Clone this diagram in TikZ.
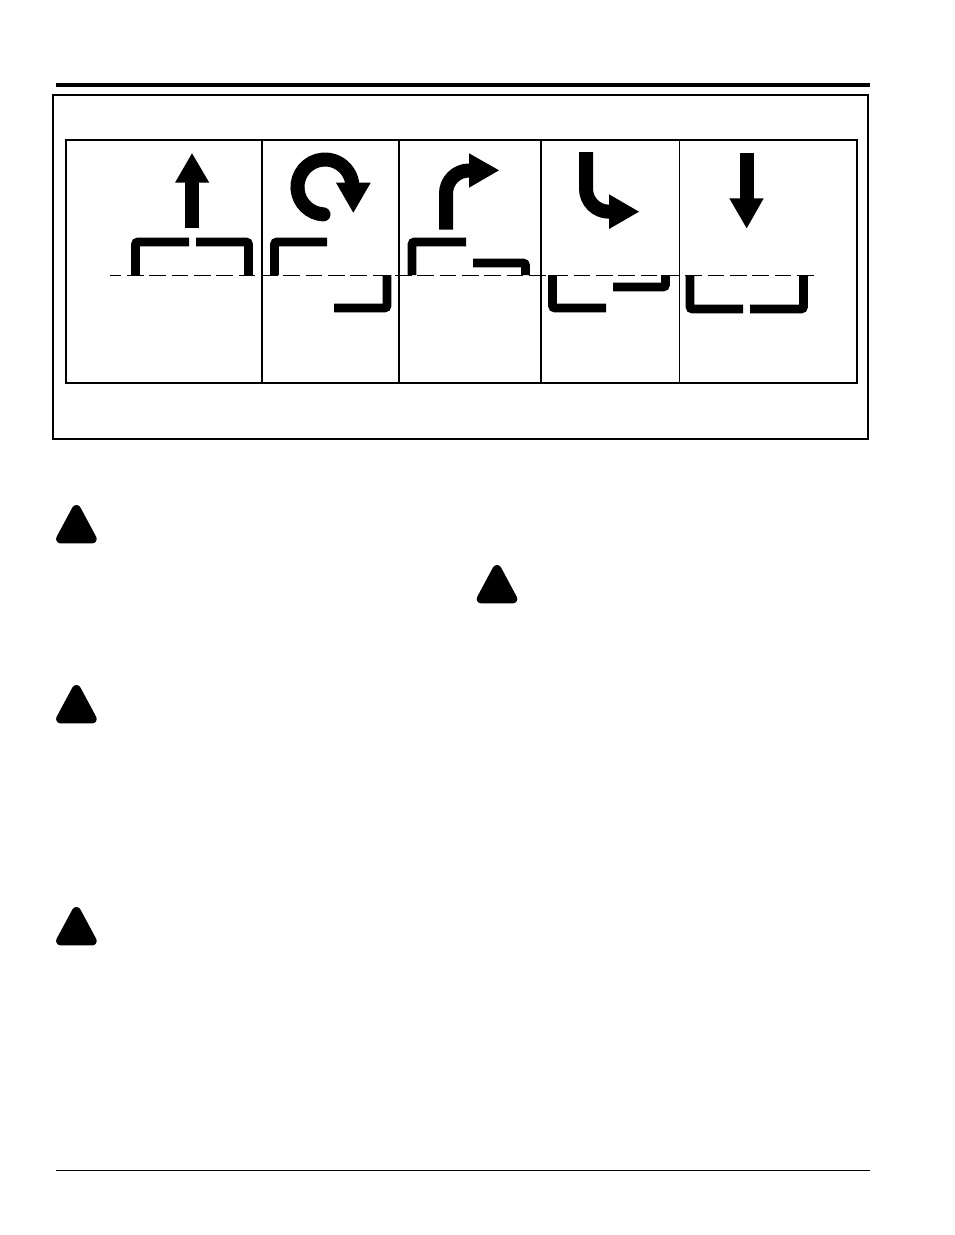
\documentclass[tikz,border=0pt]{standalone}
\tikzset{
  framebox/.style={draw=black,line width=2pt},
  cellrule/.style={draw=black,line width=2pt},
  bracket/.style={draw=black,line width=8.8pt,rounded corners=2.5pt,line cap=butt},
  shaft/.style={draw=black,line width=14pt,line cap=butt},
  head/.style={fill=black,draw=none},
  warn/.style={fill=black,draw=black,line width=9pt,line join=round},
}
\begin{document}
\begin{tikzpicture}[x=1pt,y=1pt,yscale=-1]
\useasboundingbox (0,0) rectangle (954,1235);
\fill[white] (0,0) rectangle (954,1235);
% page rules
\draw[line width=3.6pt] (56,85) -- (870,85);
\draw[line width=1pt] (56,1170.5) -- (870,1170.5);
% frames
\draw[framebox] (53,95) rectangle (868,439);
\draw[framebox] (66,140.2) rectangle (857,383);
\draw[cellrule] (262,140) -- (262,383);
\draw[cellrule] (399,140) -- (399,383);
\draw[cellrule] (541,140) -- (541,383);
\draw[cellrule,line width=1.2pt] (679.5,140) -- (679.5,383);
% brackets
\draw[bracket] (135.5,275) -- (135.5,242) -- (189,242);
\draw[bracket] (196,242) -- (248.5,242) -- (248.5,275);
\draw[bracket] (274.5,275) -- (274.5,242) -- (327,242);
\draw[bracket] (334,308) -- (387,308) -- (387,275);
\draw[bracket] (412,275) -- (412,242) -- (466,242);
\draw[bracket] (473,263) -- (525.5,263) -- (525.5,275);
\draw[bracket] (552.5,275) -- (552.5,308) -- (606,308);
\draw[bracket] (613,287) -- (665.5,287) -- (665.5,275);
\draw[bracket] (690,275) -- (690,309) -- (743,309);
\draw[bracket] (750,309) -- (803.5,309) -- (803.5,275);
% centre line
\draw[line width=1pt,dash pattern=on 16.6pt off 5.73pt,dash phase=5.3pt] (110,275.2) -- (816,275.2);
% arrow up
\draw[shaft] (192,228) -- (192,182);
\fill[head] (175,182.7) -- (192,153.3) -- (209.3,182.7) -- cycle;
% arrow rotating
\draw[shaft,line cap=round] (323.5,214.4) arc[start angle=93,end angle=175,radius=27.5];
\draw[shaft] (297.6,189.4) arc[start angle=175,end angle=360,radius=27.5];
\fill[head] (336,182.7) -- (370.7,182.7) -- (353.3,212.7) -- cycle;
% arrow turning right upward
\draw[shaft] (446,229.7) -- (446,193.5) arc[start angle=180,end angle=270,radius=23] -- (470,170.5);
\fill[head] (469,153.3) -- (499,170.3) -- (469,187.7) -- cycle;
% arrow turning right downward
\draw[shaft] (586,152) -- (586,188.7) arc[start angle=180,end angle=90,radius=23] -- (610,211.7);
\fill[head] (609,194.3) -- (639,211.7) -- (609,229) -- cycle;
% arrow down
\draw[shaft] (746.7,152.7) -- (746.7,199);
\fill[head] (729.3,198.3) -- (763.7,198.3) -- (746.7,228.3) -- cycle;
% warning triangles
\foreach \px/\py in {76.4/505,76.4/685,76.4/907,497/565}{
  \draw[warn] (\px,\py+4.5) -- (\px+15.8,\py+33.9) -- (\px-15.8,\py+33.9) -- cycle;
}
\end{tikzpicture}
\end{document}
